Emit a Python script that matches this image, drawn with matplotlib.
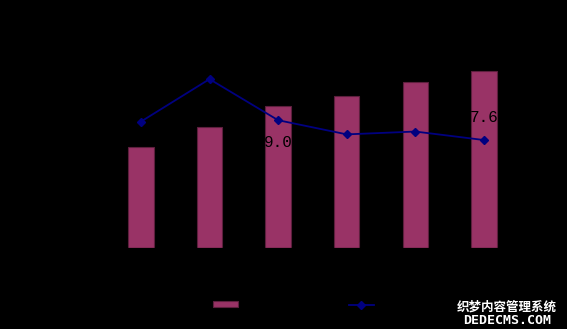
import matplotlib.pyplot as plt
from matplotlib.patches import Patch
from matplotlib.lines import Line2D

plt.rcParams['font.family'] = ['Noto Sans CJK SC', 'DejaVu Sans']

# ── data ──
years = ["2010年", "2011年", "2012年", "2013年", "2014年", "2015年"]
gdp = [7090, 8540, 9990, 10720, 11700, 12480]      # bars, 亿元
growth = [8.9, 11.9, 9.0, 8.0, 8.2, 7.6]           # line, %
shown_labels = {2: "below", 5: "above"}            # labels that show over bars

BAR_COLOR = "#993366"
LINE_COLOR = "#000080"

fig = plt.figure(figsize=(5.67, 3.29), dpi=100, facecolor="black")
ax = fig.add_axes([0.188, 0.247, 0.726, 0.603], facecolor="black")
ax2 = ax.twinx()

x = list(range(len(years)))
ax.bar(x, gdp, width=0.37, color=BAR_COLOR, edgecolor="#5c1f3d", linewidth=0.8, zorder=2)
ax.set_ylim(0, 14000)
ax.set_xlim(-0.5, len(years) - 0.5)
ax.set_xticks(x)
ax.set_xticklabels(years, color="black", fontsize=9)
ax.tick_params(colors="black", labelsize=9)

ax2.plot(x, growth, color=LINE_COLOR, lw=1.3, marker="D", ms=4.5, zorder=3)
ax2.set_ylim(0, 14)
ax2.tick_params(colors="black", labelsize=9)

for i, pos in shown_labels.items():
    dy = -16 if pos == "below" else 16
    ax2.annotate(f"{growth[i]:.1f}", (x[i], growth[i]), xytext=(0, dy),
                 textcoords="offset points", ha="center", va="center",
                 fontsize=11.5, color="black", family="Liberation Mono")

for a in (ax, ax2):
    for s in a.spines.values():
        s.set_color("black")
ax2.set_zorder(ax.get_zorder() + 1)
ax2.patch.set_visible(False)

# ── legend (text is black, like the reference) ──
handles = [Patch(facecolor=BAR_COLOR, edgecolor="#5c1f3d", linewidth=0.8),
           Line2D([], [], color=LINE_COLOR, lw=1.3, marker="D", ms=4)]
fig.legend(handles, ["生产总值(亿元)", "增长速度(%)"], loc="center",
           bbox_to_anchor=(333 / 567, 1 - 304.5 / 329), ncol=2, frameon=False,
           fontsize=9, labelcolor="black", handlelength=2.0, handleheight=0.4,
           handletextpad=0.8, columnspacing=1.4)

# watermark
fig.text(507 / 567, 1 - 307 / 329, "织梦内容管理系统", color="white", fontsize=9,
         fontweight="bold", ha="center", va="center")
fig.text(507 / 567, 1 - 320.7 / 329, "DEDECMS.COM", color="white", fontsize=9.5,
         fontweight="bold", ha="center", va="center", family="DejaVu Sans Mono")

fig.savefig("out.png", dpi=100, facecolor="black")
